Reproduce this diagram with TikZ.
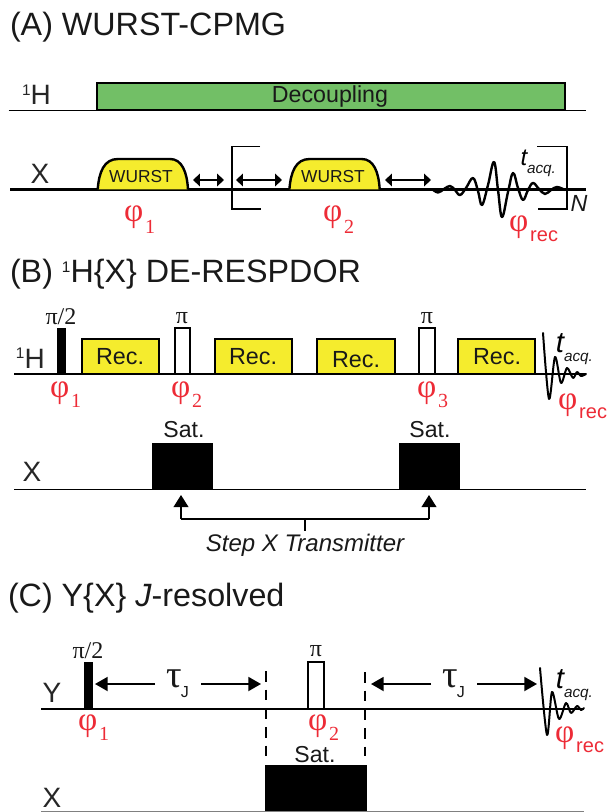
\documentclass[tikz,border=0pt]{standalone}
\usepackage{fontspec}
\setmainfont{Liberation Sans}
\newfontfamily\srf{Liberation Serif}
\usetikzlibrary{arrows.meta}
\definecolor{grn}{HTML}{72BF66}
\definecolor{ylw}{HTML}{F5EC2D}
\definecolor{phred}{HTML}{ED2B36}
\newcommand\fs[1]{\fontsize{#1}{#1}\selectfont}
\newcommand\pbox[6]{\node[#6,anchor=south west,minimum width={(#4-#2)*0.75pt},minimum height={(#5-#3)*0.75pt}] (#1) at (#2,#5) {};}
\newcommand\phs[5]{\node[phase] (#1) at (#2,#3) {{\srf\fs{25}φ}\kern1.5pt\raisebox{#4}{#5}};}
\newcommand\wurst[1]{\draw[wline,fill=ylw] (97.7+#1,189.5) .. controls (99+#1,172) and (104+#1,159) .. (118+#1,159) -- (170+#1,159) .. controls (182+#1,159) and (187+#1,172) .. (188+#1,189.5);}
\tikzset{
  baseln/.style={line width=1.7pt,black},
  thinbase/.style={line width=1.4pt,black},
  wline/.style={line width=1.8pt,black},
  tt/.style={inner sep=0,outer sep=0,font=\fs{24.2},anchor=base west,text=black!90},
  lab/.style={inner sep=0,outer sep=0,font=\fs{21},text=black!85},
  pulse/.style={draw=black,line width=1.5pt,inner sep=0,outer sep=0},
  blk/.style={draw=black,fill=black,line width=0.4pt,inner sep=0,outer sep=0},
  txt/.style={inner sep=0,outer sep=0,font=\fs{17.3},text=black!90},
  sf/.style={inner sep=0,outer sep=0,font=\srf\fs{18},text=black!90},
  phase/.style={inner sep=0,outer sep=0,anchor=base west,text=phred},
  dbl/.style={line width=0.8pt,{Triangle[length=5.2pt,width=9.5pt]}-{Triangle[length=5.2pt,width=9.5pt]}},
  bigarr/.style={line width=1.4pt,-{Triangle[length=9.5pt,width=10.5pt]}},
  uparr/.style={line width=1.2pt,-{Triangle[length=9pt,width=11pt]}},
  brk/.style={line width=1.4pt,black},
  fid/.style={line width=1.8pt,black,line join=round,line cap=round},
  dashln/.style={line width=1.2pt,black,dash pattern=on 8pt off 6pt},
  tlab/.style={inner sep=0,outer sep=0,font=\itshape\fs{18},text=black,anchor=base},
  tlabbig/.style={inner sep=0,outer sep=0,font=\itshape\fs{22},text=black,anchor=base},
  aq/.style={inner sep=0,outer sep=0,font=\itshape\fs{11.5},text=black!90,anchor=base west},
  taulab/.style={inner sep=0,outer sep=0,anchor=base west,text=black!90},
}
\begin{document}
\begin{tikzpicture}[x=0.75pt,y=-0.75pt]
\useasboundingbox (0,0) rectangle (610,812);
% ---------- A
\node[tt] (ta) at (10,36) {(A) WURST-CPMG};
\coordinate (h1) at (8.5,110.5); \coordinate (h2) at (586,110.5);
\draw[thinbase] (h1) -- (h2);
\pbox{dec}{96.5}{83.5}{565}{110.5}{pulse,fill=grn}
\node[txt,font=\fs{17.4},anchor=base] (dect) at (330,103) {Decoupling};
\node[lab,anchor=base west] (ha) at (22,105) {\raisebox{7pt}{\fs{11.5}1}H};
\node[lab] (xa) at (40,173.5) {X};
\coordinate (x1) at (10,189.5); \coordinate (x2) at (586,189.5);
\draw[baseln] (x1) -- (x2);
\wurst{0}
\wurst{191.7}
\node[txt,font=\fs{13}] (w1) at (141,177) {WURST};
\node[txt,font=\fs{13}] (w2) at (333,177) {WURST};
\coordinate (a1l) at (193,180); \coordinate (a1r) at (224,180);
\coordinate (a2l) at (236,180); \coordinate (a2r) at (282,180);
\coordinate (a3l) at (385,180); \coordinate (a3r) at (431,180);
\draw[dbl] (a1l) -- (a1r);
\draw[dbl] (a2l) -- (a2r);
\draw[dbl] (a3l) -- (a3r);
\coordinate (bl1) at (260,146.5); \coordinate (bl2) at (232,146.5); \coordinate (bl3) at (232,209); \coordinate (bl4) at (261,209);
\draw[brk] (bl1) -- (bl2) -- (bl3) -- (bl4);
\coordinate (br1) at (537,146.5); \coordinate (br2) at (567,146.5); \coordinate (br3) at (567,209); \coordinate (br4) at (538,209);
\draw[brk] (br1) -- (br2) -- (br3) -- (br4);
\draw[fid] plot[smooth,tension=0.65] coordinates {(432,189) (438,192.5) (444,189) (450,186) (455,190) (460,195) (466,188) (473,178) (478,191) (482,205) (488,185) (494,162) (498,190) (502,217) (508,192) (513,173) (518,188) (523,200) (528,190) (533,183) (539,189) (545,194) (551,190) (557,187) (565,190)};
\node[tlab] (ta1) at (524,166) {t};
\node[aq] (aq1) at (527,174) {acq.};
\node[inner sep=0,font=\itshape\fs{17.5},text=black!90] (na) at (579,203.5) {N};
\phs{p1a}{124}{222}{-9pt}{\srf\fs{15}1}
\phs{p2a}{323}{222}{-9pt}{\srf\fs{15}2}
\phs{pra}{509}{232}{-7.5pt}{\fs{15}rec}
% ---------- B
\node[tt] (tb) at (10,283) {(B) \raisebox{8pt}{\fs{11.5}1}H\{X\} DE-RESPDOR};
\coordinate (bh1) at (14,374.3); \coordinate (bh2) at (586,374.3);
\draw[thinbase] (bh1) -- (bh2);
\pbox{bp1}{57}{328}{65}{374}{blk}
\pbox{r1}{81.5}{338.5}{159}{374}{pulse,fill=ylw}
\pbox{bp2}{174.5}{328}{190}{374}{pulse,fill=white}
\pbox{r2}{214.5}{338.5}{292}{374}{pulse,fill=ylw}
\pbox{r3}{317}{338.5}{395}{374}{pulse,fill=ylw}
\pbox{bp3}{419}{328}{435}{374}{pulse,fill=white}
\pbox{r4}{457.5}{338.5}{535}{374}{pulse,fill=ylw}
\node[txt,font=\fs{17.5}] (rt1) at (120,357) {Rec.};
\node[txt,font=\fs{17.5}] (rt2) at (253,357) {Rec.};
\node[txt,font=\fs{17.5}] (rt3) at (356,360) {Rec.};
\node[txt,font=\fs{17.5}] (rt4) at (497,357) {Rec.};
\node[sf] (pi1) at (61,317) {π/2};
\node[sf] (pi2) at (182,318) {π};
\node[sf] (pi3) at (427,318) {π};
\node[lab,anchor=base west] (hb) at (16,368) {\raisebox{7pt}{\fs{11.5}1}H};
\phs{p1b}{50}{397}{-7.5pt}{\srf\fs{15}1}
\phs{p2b}{171}{397}{-7.5pt}{\srf\fs{15}2}
\phs{p3b}{417}{397}{-7.5pt}{\srf\fs{15}3}
\phs{prb}{558}{409}{-7pt}{\fs{15}rec}
\draw[fid,line width=1.5pt] plot[smooth,tension=0.5] coordinates {(543,333) (549,399) (555,357) (561,383) (567,368) (573,378) (577,372) (581,376) (586,374)};
\node[tlabbig] (tb1) at (560,352) {t};
\node[aq] (aqb) at (564,361) {acq.};
\node[txt] (s1) at (184,430) {Sat.};
\node[txt] (s2) at (430,430) {Sat.};
\pbox{sb1}{152}{443}{212}{489.5}{blk}
\pbox{sb2}{399}{443}{459}{489.5}{blk}
\coordinate (bx1) at (14,489.5); \coordinate (bx2) at (586,489.5);
\draw[thinbase] (bx1) -- (bx2);
\node[lab] (xb) at (32,472) {X};
\coordinate (u1) at (181,495); \coordinate (u1b) at (181,519);
\coordinate (u2) at (429,495); \coordinate (u2b) at (429,519);
\coordinate (m1) at (305,519); \coordinate (m2) at (305,531);
\draw[uparr] (u1b) -- (u1);
\draw[uparr] (u2b) -- (u2);
\draw[line width=1.2pt] (u1b) -- (u2b);
\draw[line width=1.2pt] (m1) -- (m2);
\node[txt,font=\itshape\fs{18}] (st) at (305,545) {Step X Transmitter};
% ---------- C
\node[tt] (tc) at (8,606) {(C) Y\{X\} \textit{J}-resolved};
\coordinate (yl1) at (41,708.7); \coordinate (yl2) at (584,708.7);
\draw[baseln] (yl1) -- (yl2);
\pbox{cp1}{84}{662}{92}{708.7}{blk}
\pbox{cp2}{308}{662}{324}{708.7}{pulse,fill=white}
\node[sf] (pic1) at (88,651) {π/2};
\node[sf] (pic2) at (316,651) {π};
\node[lab] (yc) at (52,693) {Y};
\node[lab] (xc) at (52,798) {X};
\coordinate (d1a) at (266,671); \coordinate (d1b) at (266,756);
\coordinate (d2a) at (365,672); \coordinate (d2b) at (365,756);
\draw[dashln] (d1a) -- (d1b);
\draw[dashln] (d2a) -- (d2b);
\node[txt] (s3) at (315,755) {Sat.};
\pbox{sc}{265.5}{765.5}{366}{811.5}{blk}
\coordinate (cx1) at (41,811.3); \coordinate (cx2) at (584,811.3);
\draw[line width=1pt,black!50] (cx1) -- (cx2);
\coordinate (t1a) at (155,684); \coordinate (t1b) at (95,684);
\coordinate (t2a) at (201,684); \coordinate (t2b) at (261,684);
\coordinate (t3a) at (431,684); \coordinate (t3b) at (371,684);
\coordinate (t4a) at (477,684); \coordinate (t4b) at (537,684);
\draw[bigarr] (t1a) -- (t1b);
\draw[bigarr] (t2a) -- (t2b);
\draw[bigarr] (t3a) -- (t3b);
\draw[bigarr] (t4a) -- (t4b);
\node[taulab] (tj1) at (166,687) {{\srf\fs{29}τ}\kern-0.5pt\raisebox{-7.5pt}{\fs{12}J}};
\node[taulab] (tj2) at (442,687) {{\srf\fs{29}τ}\kern-0.5pt\raisebox{-7.5pt}{\fs{12}J}};
\phs{p1c}{78}{730}{-8pt}{\srf\fs{15}1}
\phs{p2c}{308}{730}{-8pt}{\srf\fs{15}2}
\phs{prc}{555}{742}{-7.5pt}{\fs{15}rec}
\draw[fid,line width=1.5pt] plot[smooth,tension=0.5] coordinates {(540,668) (547,735) (552,692) (559,719) (566,703) (571,713) (577,706) (581,710) (584,708)};
\node[tlabbig] (tc1) at (560,688) {t};
\node[aq] (aqc) at (564,697) {acq.};
\end{tikzpicture}
\end{document}
